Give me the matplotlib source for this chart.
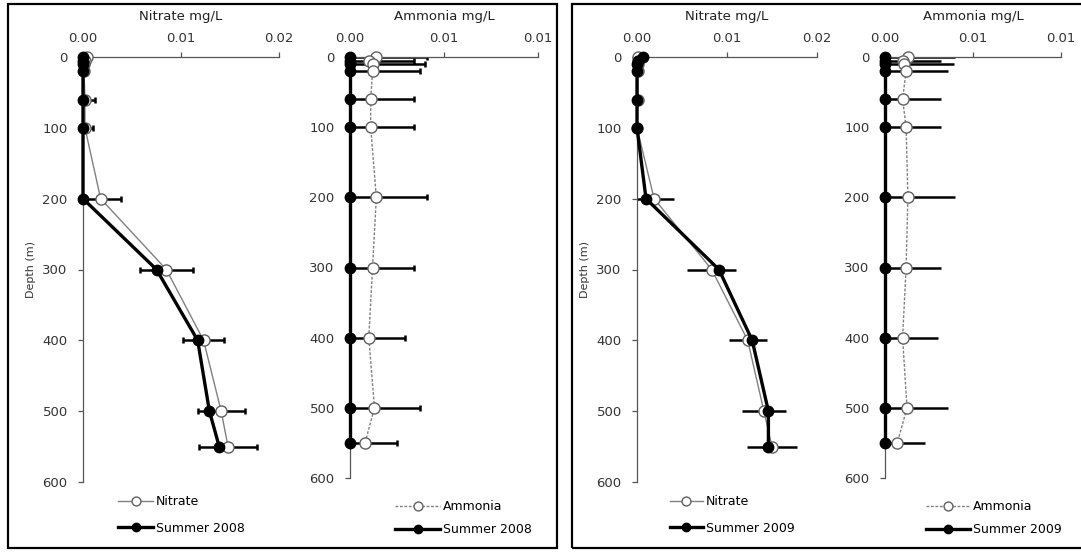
import numpy as np
import matplotlib
matplotlib.use('Agg')
import matplotlib.pyplot as plt
from matplotlib.patches import Rectangle

# sampling depths (m)
depths = [0, 5, 10, 20, 60, 100, 200, 300, 400, 500, 550]

# summer 2008, mg/L
nitrate2008 = [0.0004, 0.0002, 0.0001, 0.0001, 0.0002, 0.0002, 0.0018, 0.0085, 0.0123, 0.0141, 0.0148]
nitrate2008Err = [0.0003, 0.0002, 0.0002, 0.0002, 0.0010, 0.0008, 0.0021, 0.0027, 0.0021, 0.0024, 0.0030]
nitrateSummer2008 = [0.0, 0.0, 0.0, 0.0, 0.0, 0.0, 0.0, 0.0075, 0.0117, 0.0129, 0.0139]
ammonia2008 = [0.0014, 0.0010, 0.0012, 0.0012, 0.0011, 0.0011, 0.0014, 0.0012, 0.0010, 0.0013, 0.0008]
ammonia2008Err = [0.0041, 0.0034, 0.0040, 0.0037, 0.0034, 0.0034, 0.0041, 0.0034, 0.0029, 0.0037, 0.0025]
ammoniaSummer2008 = [0.0, 0.0, 0.0, 0.0, 0.0, 0.0, 0.0, 0.0, 0.0, 0.0, 0.0]

# summer 2009, mg/L
nitrate2009 = [0.0001, 0.0001, 0.0001, 0.0001, 0.0001, 0.0, 0.0019, 0.0083, 0.0123, 0.0141, 0.0150]
nitrate2009Err = [0.0002, 0.0002, 0.0002, 0.0002, 0.0006, 0.0003, 0.0022, 0.0027, 0.0021, 0.0024, 0.0028]
nitrateSummer2009 = [0.0007, 0.0001, 0.0, 0.0, 0.0, 0.0, 0.0010, 0.0091, 0.0128, 0.0146, 0.0146]
ammonia2009 = [0.0013, 0.0010, 0.0011, 0.0012, 0.0010, 0.0012, 0.0013, 0.0012, 0.0010, 0.00125, 0.0007]
ammonia2009Err = [0.0040, 0.0032, 0.0039, 0.0036, 0.0032, 0.0032, 0.0040, 0.0032, 0.0030, 0.0036, 0.0023]
ammoniaSummer2009 = [0.0, 0.0, 0.0, 0.0, 0.0, 0.0, 0.0, 0.0, 0.0, 0.0, 0.0]

nitrateTicks = [0.0, 0.01, 0.02]
nitrateTickLabels = ['0.00', '0.01', '0.02']
ammoniaTicks = [0.0, 0.005, 0.01]
ammoniaTickLabels = ['0.00', '0.01', '0.01']

plt.rcParams['font.family'] = ['DejaVu Sans']

W, H = 1081, 552
fig = plt.figure(figsize=(W / 100, H / 100), dpi=100)


def pixelRect(x0, y0, x1, y1):
    return [x0 / W, 1 - y1 / H, (x1 - x0) / W, (y1 - y0) / H]


def drawPanel(rect, openVals, err, blackVals, xmax, xticks, xtickLabels, title,
              openLabel, blackLabel, dotted, caps, errOnOpen, ylabel, legendAt,
              handleLen, spacing):
    ax = fig.add_axes(rect)
    centre = np.array(openVals if errOnOpen else blackVals)
    err = np.array(err)
    lower = np.minimum(err, centre)
    ax.errorbar(centre, depths, xerr=[lower, err], fmt='none', ecolor='black',
                elinewidth=1.8, capsize=2.5 if caps else 0, capthick=1.8, zorder=2)

    ax.plot(openVals, depths, color='#808080', lw=1.0,
            ls=(0, (2, 1.2)) if dotted else '-',
            marker='o', ms=8, mfc='white', mec='#606060', mew=1.0,
            clip_on=False, zorder=3, label=openLabel)
    ax.plot(blackVals, depths, color='black', lw=2.4, marker='o', ms=7.5,
            mfc='black', mec='black', clip_on=False, zorder=4, label=blackLabel)

    ax.set_xlim(0, xmax)
    ax.set_ylim(600, 0)
    ax.xaxis.tick_top()
    ax.xaxis.set_label_position('top')
    ax.set_xticks(xticks)
    ax.set_xticklabels(xtickLabels)
    ax.set_yticks(range(0, 601, 100))
    for side in ['bottom', 'right']:
        ax.spines[side].set_visible(False)
    for side in ['top', 'left']:
        ax.spines[side].set_color('#555555')
        ax.spines[side].set_linewidth(0.9)
    ax.tick_params(direction='out', length=3.5, width=0.9, color='#555555',
                   labelcolor='#333333', labelsize=9.5)
    ax.tick_params(axis='x', pad=5.5)
    ax.tick_params(axis='y', pad=7.5)
    ax.set_xlabel(title, labelpad=8, color='#222222', fontsize=9.5)
    if ylabel:
        ax.set_ylabel('Depth (m)', labelpad=5, color='#333333', fontsize=8)

    ax.legend(loc='upper left', bbox_to_anchor=(legendAt[0] / W, 1 - legendAt[1] / H),
              bbox_transform=fig.transFigure, frameon=False, borderpad=0,
              borderaxespad=0, handlelength=handleLen, handletextpad=0.25,
              labelspacing=spacing, markerscale=0.8, fontsize=9)
    return ax


drawPanel(pixelRect(83, 57, 279, 482), nitrate2008, nitrate2008Err, nitrateSummer2008,
          0.02, nitrateTicks, nitrateTickLabels, 'Nitrate mg/L', 'Nitrate', 'Summer 2008',
          False, True, True, True, (118, 495), 2.8, 1.1)
drawPanel(pixelRect(350, 57, 538, 478), ammonia2008, ammonia2008Err, ammoniaSummer2008,
          0.01, ammoniaTicks, ammoniaTickLabels, 'Ammonia mg/L', 'Ammonia', 'Summer 2008',
          True, True, False, False, (395, 500), 3.6, 0.8)
drawPanel(pixelRect(637, 57, 817, 482), nitrate2009, nitrate2009Err, nitrateSummer2009,
          0.02, nitrateTicks, nitrateTickLabels, 'Nitrate mg/L', 'Nitrate', 'Summer 2009',
          False, False, True, True, (670, 495), 2.6, 1.1)
drawPanel(pixelRect(885, 57, 1061, 478), ammonia2009, ammonia2009Err, ammoniaSummer2009,
          0.01, ammoniaTicks, ammoniaTickLabels, 'Ammonia mg/L', 'Ammonia', 'Summer 2009',
          True, False, False, False, (926, 500), 3.5, 0.8)

# the two framing boxes
fig.add_artist(Rectangle((8 / W, 1 - 548 / H), (557 - 8) / W, (548 - 4) / H,
                         transform=fig.transFigure, fill=False, ec='black', lw=1.6))
fig.add_artist(Rectangle((572 / W, 1 - 548 / H), (1095 - 572) / W, (548 - 4) / H,
                         transform=fig.transFigure, fill=False, ec='black', lw=1.6))

fig.savefig('out.png', dpi=100)
